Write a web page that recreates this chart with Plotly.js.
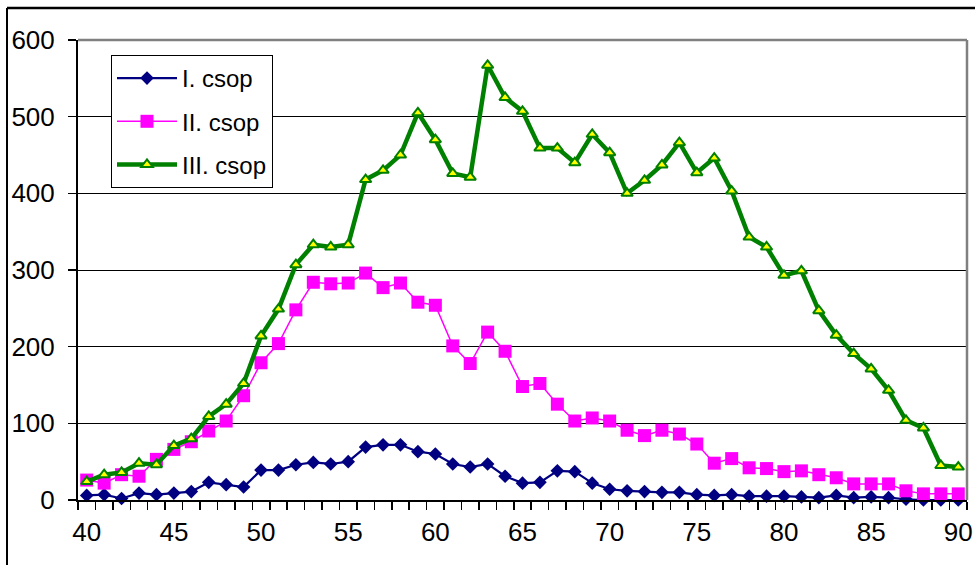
<!DOCTYPE html>
<html>
<head>
<meta charset="utf-8">
<script src="https://cdn.plot.ly/plotly-3.0.1.min.js"></script>
<style>
html,body{margin:0;padding:0;background:#fff;}
#chart{width:975px;height:565px;}
</style>
</head>
<body>
<div id="chart"></div>
<script>
// Age categories 40..90
const ages = [40,41,42,43,44,45,46,47,48,49,50,51,52,53,54,55,56,57,58,59,60,61,62,63,64,65,66,67,68,69,70,71,72,73,74,75,76,77,78,79,80,81,82,83,84,85,86,87,88,89,90];
const seriesNames = ["I. csop", "II. csop", "III. csop"];
const csopI = [6,7,2,9,7,9,11,23,20,17,39,39,46,49,47,50,69,72,72,63,60,47,43,47,31,22,23,38,37,22,14,12,11,10,10,7,6,7,5,5,5,4,3,6,3,4,3,1,0,0,0];
const csopII = [26,22,33,31,53,66,76,90,103,136,179,204,248,284,282,283,296,277,283,258,254,201,178,219,194,148,152,125,103,107,103,91,84,91,86,73,48,54,42,41,37,38,33,29,21,21,21,12,8,8,8];
const csopIII = [24,33,36,48,46,71,80,109,125,152,214,249,307,333,330,333,418,430,450,505,470,426,421,567,525,507,459,459,440,477,453,400,417,437,466,427,446,403,343,330,293,299,247,215,191,171,143,104,94,45,43];
const xTickVals = [40,45,50,55,60,65,70,75,80,85,90];
const yTickVals = [0,100,200,300,400,500,600];

const FONT = 'Arial, "Liberation Sans", sans-serif';
const W = 975, H = 565;
const M = {l:78, r:8, t:40, b:65};
const pw = W - M.l - M.r, ph = H - M.t - M.b;
const px2x = p => (p - M.l) / pw;
const py2y = p => (H - M.b - p) / ph;

const traces = [
  {x: ages, y: csopI, name: seriesNames[0], type:'scatter', mode:'lines+markers', legendgroup:'a',
   line:{color:'#000080', width:2.2}, marker:{symbol:'diamond', size:10.5, color:'#000080'}, cliponaxis:false},
  {x: ages, y: csopII, name: seriesNames[1], type:'scatter', mode:'lines+markers', legendgroup:'b',
   line:{color:'#FF00FF', width:1.5}, marker:{symbol:'square', size:13, color:'#FF00FF'}, cliponaxis:false},
  {x: ages, y: csopIII, name: seriesNames[2], type:'scatter', mode:'lines+markers', legendgroup:'c',
   line:{color:'#008000', width:4.5}, marker:{symbol:'triangle-up', size:10, color:'#FFFF00', line:{color:'#008000', width:2}}, cliponaxis:false}
];

const layout = {
  width: W, height: H,
  margin: M,
  paper_bgcolor:'#ffffff', plot_bgcolor:'#ffffff',
  font:{family:FONT, color:'#000000', size:24},
  showlegend:true,
  legend:{x:px2x(111), y:py2y(55), xanchor:'left', yanchor:'top',
          bgcolor:'#ffffff', bordercolor:'#000000', borderwidth:1,
          font:{family:FONT, size:24, color:'#000000'},
          traceorder:'grouped', tracegroupgap:9, itemwidth:60},
  xaxis:{range:[39.5,90.5], tickvals:xTickVals, ticktext:xTickVals.map(String),
         ticks:'', showgrid:false, zeroline:false,
         showline:true, linecolor:'#000000', linewidth:2,
         tickfont:{family:FONT, size:26, color:'#000000'}, ticklabelstandoff:8,
         minor:{ticks:'outside', tick0:39.5, dtick:1, ticklen:8, tickwidth:1.5, tickcolor:'#000000', showgrid:false}},
  yaxis:{range:[0,600], tickvals:yTickVals, ticktext:yTickVals.map(String),
         ticks:'outside', ticklen:8, tickwidth:1.5, tickcolor:'#000000',
         showgrid:true, gridcolor:'#000000', gridwidth:1, zeroline:false,
         showline:true, linecolor:'#000000', linewidth:2,
         tickfont:{family:FONT, size:26, color:'#000000'}, ticklabelstandoff:8},
  shapes:[
    {type:'line', xref:'paper', yref:'paper', x0:0, x1:1, y0:1, y1:1, line:{color:'#808080', width:2.5}},
    {type:'line', xref:'paper', yref:'paper', x0:1, x1:1, y0:0, y1:1, line:{color:'#808080', width:2.5}},
    {type:'line', xref:'paper', yref:'paper', x0:px2x(7), x1:px2x(975), y0:py2y(8), y1:py2y(8), line:{color:'#000000', width:2.5}},
    {type:'line', xref:'paper', yref:'paper', x0:px2x(7), x1:px2x(7), y0:py2y(8), y1:py2y(565), line:{color:'#000000', width:2}}
  ]
};

Plotly.newPlot('chart', traces, layout, {displayModeBar:false, staticPlot:true});
</script>
</body>
</html>
